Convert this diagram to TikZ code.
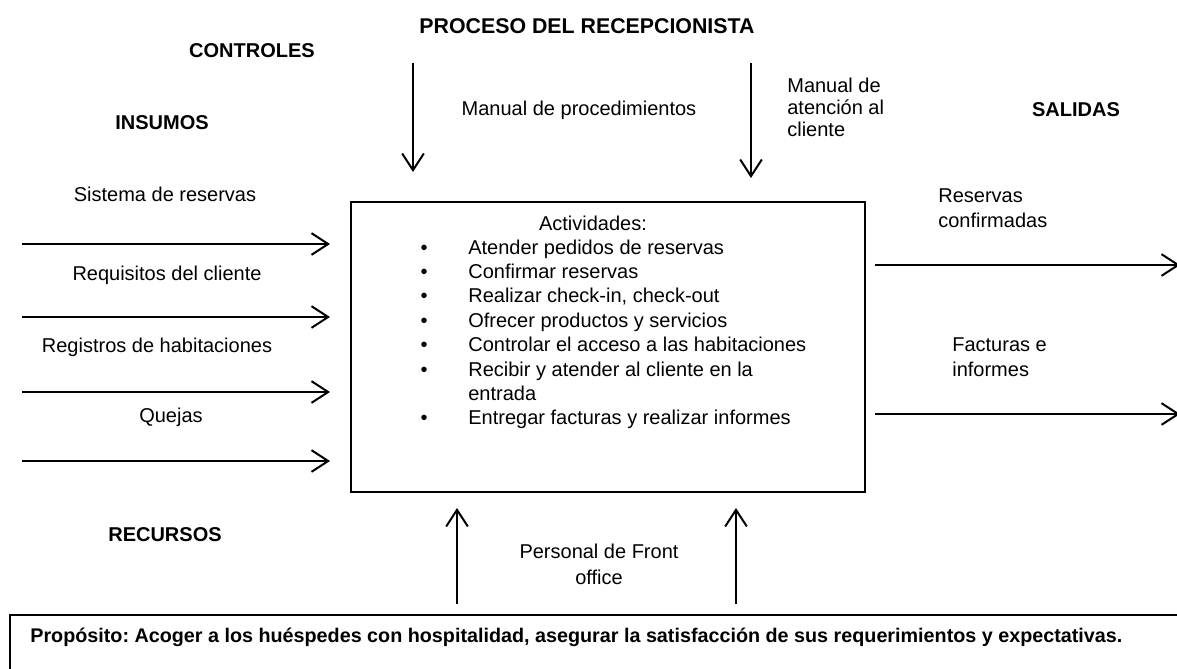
\documentclass[tikz,border=0pt]{standalone}
\usepackage{fontspec}
\setmainfont{Liberation Sans}
\usetikzlibrary{arrows.meta}
\frenchspacing

\tikzset{
  flow/.style={line width=1.2pt, -{Straight Barb[length=10pt,width=13pt,line width=1.2pt]}},
  frame/.style={draw, line width=1.2pt, inner sep=0pt, anchor=north west},
  lbl/.style={inner sep=0pt, font=\fontsize{12}{14.4}\selectfont},
  hdr/.style={inner sep=0pt, font=\fontsize{12}{14.4}\selectfont\bfseries},
}

\begin{document}
\begin{tikzpicture}[x=0.6pt, y=-0.6pt]
  \useasboundingbox (0,0) rectangle (1177,668);

  % Headings
  \node[hdr, font=\fontsize{12.8}{15}\selectfont\bfseries, anchor=base] (title) at (587,33) {PROCESO DEL RECEPCIONISTA};
  \node[hdr, anchor=base] (ctrl) at (252,57) {CONTROLES};
  \node[hdr, anchor=base] (insu) at (162,129) {INSUMOS};
  \node[hdr, anchor=base] (sali) at (1076,116) {SALIDAS};
  \node[hdr, anchor=base] (recu) at (165,541) {RECURSOS};

  % Process box
  \node[frame, minimum width=308.4pt, minimum height=174pt] (proc) at (350,201) {};
  \node[lbl, anchor=base] (act) at (593,230) {Actividades:};
  \foreach \r/\txt in {0/Atender pedidos de reservas, 1/Confirmar reservas,
      2/{Realizar check-in, check-out}, 3/Ofrecer productos y servicios,
      4/Controlar el acceso a las habitaciones,
      5/Recibir y atender al cliente en la,
      7/Entregar facturas y realizar informes}{
      \node[lbl, anchor=base] (dot\r) at (424,254+24.4*\r) {\textbullet};
      \node[lbl, anchor=base west] (item\r) at (468,254+24.4*\r) {\txt};
    }
  \node[lbl, anchor=base west] (item6) at (468,254+24.4*6) {entrada};

  % Controls
  \coordinate (c1-s) at (413,63);
  \coordinate (c1-e) at (413,172);
  \coordinate (c2-s) at (751,63);
  \coordinate (c2-e) at (751,178);
  \draw[flow] (c1-s) -- (c1-e);
  \draw[flow] (c2-s) -- (c2-e);
  \node[lbl, anchor=base] (man1) at (579,115) {Manual de procedimientos};
  \node[lbl, font=\fontsize{12}{13.3}\selectfont, anchor=north west, align=left] (man2) at (787,77.8) {Manual de\\atención al\\cliente};

  % Inputs
  \foreach \y [count=\i] in {244,317,392,461}{
      \coordinate (in\i-s) at (22,\y);
      \coordinate (in\i-e) at (330,\y);
      \draw[flow] (in\i-s) -- (in\i-e);
    }
  \node[lbl, anchor=base] (inp1) at (165,201) {Sistema de reservas};
  \node[lbl, anchor=base] (inp2) at (167,280) {Requisitos del cliente};
  \node[lbl, anchor=base] (inp3) at (157,352) {Registros de habitaciones};
  \node[lbl, anchor=base] (inp4) at (171,422) {Quejas};

  % Outputs
  \foreach \y [count=\i] in {265,414}{
      \coordinate (out\i-s) at (875,\y);
      \coordinate (out\i-e) at (1180,\y);
      \draw[flow] (out\i-s) -- (out\i-e);
    }
  \node[lbl, font=\fontsize{12}{15.4}\selectfont, anchor=north west, align=left] (out1) at (938,188.2) {Reservas\\confirmadas};
  \node[lbl, font=\fontsize{12}{15}\selectfont, anchor=north west, align=left] (out2) at (952,337.8) {Facturas e\\informes};

  % Resources
  \coordinate (r1-s) at (457,604);
  \coordinate (r1-e) at (457,508);
  \coordinate (r2-s) at (736,604);
  \coordinate (r2-e) at (736,508);
  \draw[flow] (r1-s) -- (r1-e);
  \draw[flow] (r2-s) -- (r2-e);
  \node[lbl, font=\fontsize{12}{15.4}\selectfont, anchor=north, align=center] (pers) at (599,543.8) {Personal de Front\\office};

  % Purpose
  \node[frame, minimum width=711.6pt, minimum height=45.6pt] (prop) at (9,614) {};
  \node[hdr, font=\fontsize{11.85}{14.4}\selectfont\bfseries, anchor=base west] (proptxt) at (30,642) {Propósito: Acoger a los huéspedes con hospitalidad, asegurar la satisfacción de sus requerimientos y expectativas.};

\end{tikzpicture}
\end{document}
